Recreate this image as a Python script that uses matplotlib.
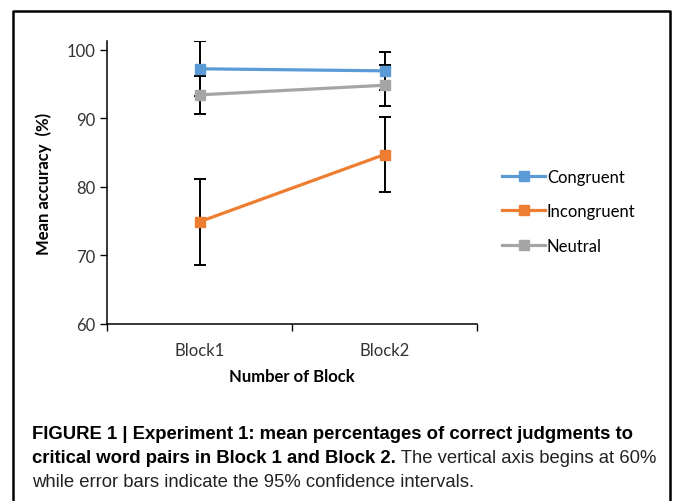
import matplotlib
matplotlib.use("Agg")
import matplotlib.pyplot as plt
from matplotlib.lines import Line2D

# data
blocks = ["Block1", "Block2"]
congruent = [97.2, 96.9]
congruent_err = [4.0, 2.8]
incongruent = [74.9, 84.7]
incongruent_err = [6.3, 5.4]
neutral = [93.4, 94.8]
neutral_err = [2.8, 3.0]

series = [
    ("Congruent", congruent, congruent_err, "#5B9BD5"),
    ("Incongruent", incongruent, incongruent_err, "#ED7D31"),
    ("Neutral", neutral, neutral_err, "#A5A5A5"),
]

W, H = 673, 502
fig = plt.figure(figsize=(W / 100, H / 100), dpi=100)
chart_font = ["Lato", "DejaVu Sans"]
cap_font = ["Liberation Sans", "DejaVu Sans"]

# frame around the figure panel (open at the bottom)
x0, x1, ytop = 13 / W, 670 / W, 1 - 12 / H
fig.add_artist(Line2D([x0, x0, x1, x1], [0, ytop, ytop, 0],
                      transform=fig.transFigure, color="black", lw=1.8))

ax = fig.add_axes([107 / W, 1 - 325 / H, 370 / W, (325 - 42) / H])
xpos = [0.5, 1.5]

for name, vals, errs, col in series:
    ax.errorbar(xpos, vals, yerr=errs, fmt="none", ecolor="black",
                elinewidth=1.4, capsize=4, capthick=1.4, zorder=2)
for name, vals, errs, col in series:
    ax.plot(xpos, vals, color=col, lw=2.3, marker="s", ms=7.5,
            label=name, zorder=3)

ax.set_xlim(0, 2)
ax.set_ylim(60, 101.25)
ax.set_yticks([60, 70, 80, 90, 100])
ax.set_xticks([0, 1, 2])
ax.set_xticklabels([])
ax.set_xticks(xpos, minor=True)
ax.set_xticklabels(blocks, minor=True, fontfamily=chart_font, fontsize=12, color="#333333")
ax.tick_params(axis="x", which="minor", length=0, pad=13)
ax.tick_params(axis="both", which="major", direction="out", length=5, width=1)
for lab in ax.get_yticklabels():
    lab.set_fontfamily(chart_font)
    lab.set_fontsize(12)
    lab.set_color("#333333")
ax.spines["top"].set_visible(False)
ax.spines["right"].set_visible(False)
ax.spines["left"].set_linewidth(1.1)
ax.spines["bottom"].set_linewidth(1.1)

ax.set_xlabel("Number of Block", fontfamily=chart_font, fontweight="bold",
              fontsize=12, labelpad=7)
ax.set_ylabel("Mean accuracy  (%)", fontfamily=chart_font, fontweight="bold",
              fontsize=12)
ax.yaxis.set_label_coords(-55 / 370, 0.5)

fig.legend(loc="upper left", bbox_to_anchor=(502 / W, 1 - 170 / H),
           frameon=False, prop={"family": chart_font, "size": 12},
           handlelength=2.6, handletextpad=0.1, labelspacing=1.1,
           borderpad=0, borderaxespad=0)

# caption
cap_size = 13.35
fig.text(32 / W, 1 - 439 / H,
         "FIGURE 1 | Experiment 1: mean percentages of correct judgments to",
         fontfamily=cap_font, fontweight="bold", fontsize=cap_size, va="baseline")
t_bold = fig.text(32 / W, 1 - 463 / H, "critical word pairs in Block 1 and Block 2.",
                  fontfamily=cap_font, fontweight="bold", fontsize=cap_size, va="baseline")
fig.canvas.draw()
bb = t_bold.get_window_extent(renderer=fig.canvas.get_renderer())
fig.text(bb.x1 / W, 1 - 463 / H, " The vertical axis begins at 60%",
         fontfamily=cap_font, fontsize=cap_size, va="baseline", color="#222222")
fig.text(32 / W, 1 - 487 / H,
         "while error bars indicate the 95% confidence intervals.",
         fontfamily=cap_font, fontsize=cap_size, va="baseline", color="#222222")

fig.savefig("out.png", dpi=100)
